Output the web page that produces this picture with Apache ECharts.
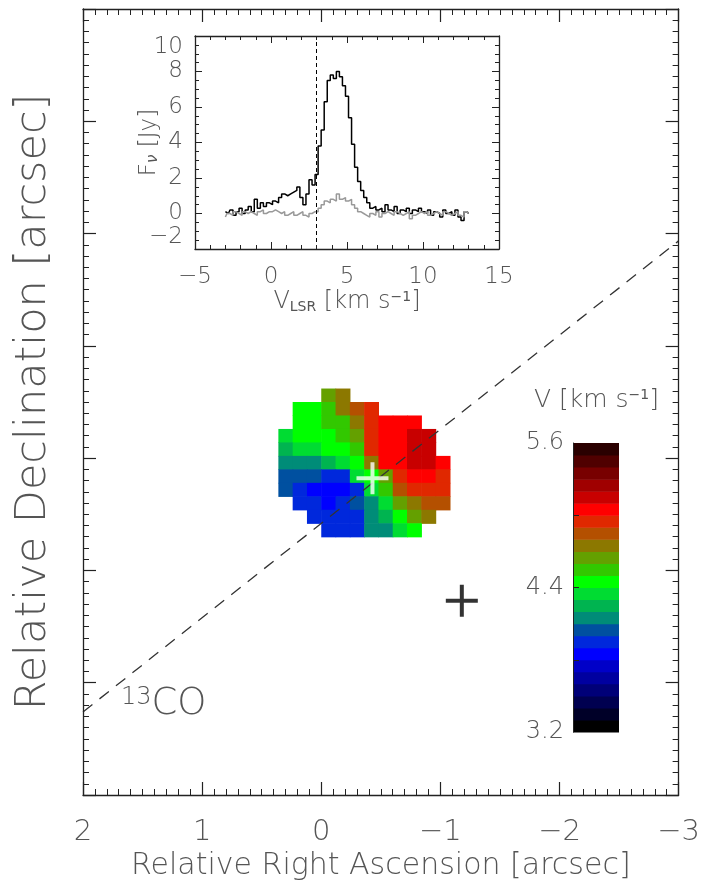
<!DOCTYPE html>
<html>
<head>
<meta charset="utf-8">
<script src="https://cdn.jsdelivr.net/npm/echarts@6/dist/echarts.min.js"></script>
<style>
  html, body { margin: 0; padding: 0; background: #fff; }
  #chart { width: 703px; height: 886px; }
</style>
</head>
<body>
<div id="chart"></div>
<script>
// ---- Integrated spectrum (inset) ----
const specVelocity = [
  -3.0, -2.8, -2.6, -2.4, -2.2, -2.0, -1.8, -1.6, -1.4, -1.2, -1.0, -0.8, -0.6, -0.4, -0.2,
  0.0, 0.2, 0.4, 0.6, 0.8, 1.0, 1.2, 1.4, 1.6, 1.8, 2.0, 2.2, 2.4, 2.6, 2.8,
  3.0, 3.2, 3.4, 3.6, 3.8, 4.0, 4.2, 4.4, 4.6, 4.8, 5.0, 5.2, 5.4, 5.6, 5.8,
  6.0, 6.2, 6.4, 6.6, 6.8, 7.0, 7.2, 7.4, 7.6, 7.8, 8.0, 8.2, 8.4, 8.6, 8.8,
  9.0, 9.2, 9.4, 9.6, 9.8, 10.0, 10.2, 10.4, 10.6, 10.8, 11.0, 11.2, 11.4, 11.6, 11.8,
  12.0, 12.2, 12.4, 12.6, 12.8, 13.0
];
const fluxTotal = [
  0.1, 0.0, 0.2, -0.1, 0.1, 0.3, 0.0, 0.2, 0.4, 0.1, 0.8, 0.3, 0.6, 0.4, 0.6,
  0.5, 0.7, 0.6, 0.9, 1.1, 1.0, 1.1, 1.2, 1.3, 1.5, 0.9, 0.5, 1.1, 1.9, 1.6,
  2.2, 3.8, 4.7, 6.3, 7.5, 7.8, 7.6, 8.0, 7.7, 7.2, 6.6, 5.4, 3.9, 2.6, 1.8,
  1.3, 0.9, 0.6, 0.3, 0.4, 0.2, 0.3, 0.1, 0.5, 0.2, 0.1, 0.4, 0.0, 0.2, 0.1,
  0.3, 0.0, 0.2, 0.1, 0.3, 0.1, 0.0, 0.2, -0.1, 0.1, 0.0, -0.2, 0.2, 0.0, 0.1,
  -0.1, 0.2, -0.2, -0.4, 0.1, 0.0
];
const fluxResidual = [
  -0.2, 0.0, -0.1, 0.1, 0.0, -0.1, 0.1, 0.0, 0.1, 0.0, -0.1, 0.1, 0.2, 0.0, 0.1,
  0.1, 0.2, 0.1, 0.0, 0.1, -0.1, 0.0, 0.1, -0.1, 0.0, 0.1, -0.1, -0.2, 0.0, 0.1,
  0.1, 0.3, 0.5, 0.7, 0.6, 0.8, 0.7, 1.1, 0.8, 0.9, 0.7, 0.8, 0.5, 0.3, 0.1,
  0.0, -0.1, -0.2, 0.0, -0.1, 0.1, -0.2, 0.0, 0.1, 0.0, -0.1, 0.1, 0.0, -0.1, 0.0,
  0.1, -0.3, -0.1, 0.0, 0.1, 0.0, 0.1, -0.1, 0.0, 0.1, 0.0, -0.1, 0.1, 0.0, -0.1,
  0.0, 0.1, -0.1, -0.2, 0.1, 0.0
];
const systemicVelocity = 3.0;

// ---- 13CO first-moment map (arcsec offsets, km/s) ----
const raCenters = [0.30, 0.18, 0.06, -0.06, -0.18, -0.30, -0.42, -0.54, -0.66, -0.78, -0.90, -1.02];
const decCenters = [-0.44, -0.56, -0.68, -0.80, -0.92, -1.04, -1.16, -1.28, -1.40, -1.52, -1.64];
const velocityRows = [
  [null, null, null, 4.68, 4.75, null, null, null, null, null, null, null],
  [null, 4.45, 4.48, 4.56, 4.70, 4.82, 4.92, null, null, null, null, null],
  [null, 4.45, 4.46, 4.50, 4.58, 4.75, 4.97, 5.05, 5.05, 5.08, null, null],
  [4.30, 4.40, 4.44, 4.47, 4.52, 4.65, 4.95, 5.05, 5.05, 5.10, 5.15, null],
  [4.22, 4.32, 4.36, 4.40, 4.46, 4.58, 4.90, 5.05, 5.05, 5.12, 5.15, null],
  [4.12, 4.15, 4.18, 4.25, 4.35, 4.46, 4.75, 5.02, 5.05, 5.10, 5.15, 5.00],
  [4.05, 4.05, 4.00, 3.92, 3.98, 4.30, 4.48, 4.65, 4.95, 5.02, 5.02, 4.95],
  [4.00, 3.95, 3.87, 3.82, 3.85, 3.95, 4.30, 4.55, 4.82, 4.92, 4.92, 4.90],
  [null, 3.95, 3.90, 3.88, 3.92, 4.00, 4.15, 4.35, 4.60, 4.78, 4.85, 4.82],
  [null, null, 3.95, 3.93, 3.95, 3.98, 4.10, 4.25, 4.42, 4.65, 4.72, null],
  [null, null, null, 3.96, 3.96, 3.98, 4.10, 4.18, 4.35, 4.45, null, null]
];

// Colour levels of the velocity scale (km/s)
const levelEdges = [3.2, 3.3, 3.4, 3.5, 3.6, 3.7, 3.8, 3.9, 4.0, 4.1, 4.2, 4.3, 4.4,
                    4.5, 4.6, 4.7, 4.8, 4.9, 5.0, 5.1, 5.2, 5.3, 5.4, 5.5, 5.6];
const colorbarLabels = [3.2, 4.4, 5.6];
const colorbarTicks = [3.8, 4.4, 5.0];

// Continuum source positions and the disk major axis (arcsec)
const sourcePosition = [[-0.43, -1.18]];
const companionPosition = [[-1.18, -2.27]];
const majorAxisLine = [[2.0, -3.26], [-3.0, 0.935]];

// ---- styling ----
const levelColors = [
  '#000000', '#000028', '#000050', '#000078', '#0000a0', '#0000c8', '#0000ff', '#0028dc',
  '#0050a0', '#008c78', '#00b450', '#00dc32', '#00ff00', '#32c800', '#64a000', '#8c7800',
  '#b45000', '#e02800', '#ff0000', '#c80000', '#a00000', '#780000', '#500000', '#2a0000'
];
const FONT = 'DejaVu Sans';
const TXT = '#555';
const AX = '#222';
const minus = v => String(v).replace('-', '\u2212');

function bandIndex(v) {
  for (let i = levelEdges.length - 2; i >= 0; i--) if (v >= levelEdges[i]) return i;
  return 0;
}

const cellData = [];
velocityRows.forEach((row, r) => row.forEach((v, c) => {
  if (v !== null) cellData.push([raCenters[c], decCenters[r], v]);
}));
const cellW = Math.abs(raCenters[1] - raCenters[0]);
const cellH = Math.abs(decCenters[1] - decCenters[0]);

const bandData = levelEdges.slice(0, -1).map((lo, i) => [lo, levelEdges[i + 1]]);

const totalData = specVelocity.map((v, i) => [v, fluxTotal[i]]);
const residualData = specVelocity.map((v, i) => [v, fluxResidual[i]]);

const plusPath = 'path://M0,14H32V18H0Z M14,0H18V32H14Z';

function boxAxis(base, extra) {
  return Object.assign({
    type: 'value',
    z: 5,
    nameMoveOverlap: false,
    splitLine: { show: false },
    minorSplitLine: { show: false },
    axisLine: { show: true, onZero: false, lineStyle: { color: AX, width: 1.3 } },
    axisTick: { show: true, inside: true, length: 13, lineStyle: { color: AX, width: 1.2 } },
    minorTick: { show: true, splitNumber: 10, length: 6, lineStyle: { color: AX, width: 1 } },
    axisLabel: { show: false }
  }, base, extra || {});
}

const insetTick = { show: true, inside: true, length: 7, lineStyle: { color: AX, width: 1 } };
const insetMinor = { show: true, length: 4, lineStyle: { color: AX, width: 1 } };

const option = {
  animation: false,
  backgroundColor: '#fff',
  textStyle: { fontFamily: FONT },
  grid: [
    { left: 83, top: 9, right: 23, bottom: 87 },
    { left: 195, top: 36, width: 304, height: 213, show: true, backgroundColor: '#fff', borderWidth: 0 },
    { left: 573, top: 443, width: 46, height: 289 }
  ],
  xAxis: [
    boxAxis({ gridIndex: 0, position: 'bottom', min: -3, max: 2, interval: 1, inverse: true }, {
      axisLabel: { show: true, fontSize: 29, color: TXT, margin: 23, fontFamily: FONT, fontWeight: 200, formatter: minus },
      name: 'Relative Right Ascension [arcsec]',
      nameLocation: 'middle',
      nameGap: 56,
      nameTextStyle: { fontSize: 30, color: TXT, fontFamily: FONT, fontWeight: 200 }
    }),
    boxAxis({ gridIndex: 0, position: 'top', min: -3, max: 2, interval: 1, inverse: true }),
    boxAxis({ gridIndex: 1, position: 'bottom', min: -5, max: 15, interval: 5 }, {
      axisTick: insetTick,
      minorTick: Object.assign({ splitNumber: 5 }, insetMinor),
      axisLabel: { show: true, fontSize: 23, color: TXT, margin: 17, fontFamily: FONT, fontWeight: 200, formatter: minus },
      name: '{a|V}{s|LSR}{a| [km s}{p|\u22121}{a|]}',
      nameLocation: 'middle',
      nameGap: 41,
      nameTextStyle: {
        color: TXT,
        rich: {
          a: { fontSize: 24, color: TXT, fontFamily: FONT, fontWeight: 200 },
          s: { fontSize: 14, color: TXT, fontFamily: FONT, verticalAlign: 'bottom' },
          p: { fontSize: 14, color: TXT, fontFamily: FONT, verticalAlign: 'top' }
        }
      }
    }),
    boxAxis({ gridIndex: 1, position: 'top', min: -5, max: 15, interval: 5 }, {
      axisTick: insetTick,
      minorTick: Object.assign({ splitNumber: 5 }, insetMinor)
    }),
    { type: 'value', gridIndex: 2, min: 0, max: 1, show: false }
  ],
  yAxis: [
    boxAxis({ gridIndex: 0, position: 'left', min: -4, max: 3, interval: 1 }, {
      name: 'Relative Declination [arcsec]',
      nameLocation: 'middle',
      nameGap: 28,
      nameTextStyle: { fontSize: 43, color: TXT, fontFamily: FONT, fontWeight: 200 }
    }),
    boxAxis({ gridIndex: 0, position: 'right', min: -4, max: 3, interval: 1 }),
    boxAxis({ gridIndex: 1, position: 'left', min: -2, max: 10, interval: 2 }, {
      axisTick: insetTick,
      minorTick: Object.assign({ splitNumber: 4 }, insetMinor),
      axisLabel: { show: true, fontSize: 23, color: TXT, margin: 12, fontFamily: FONT, fontWeight: 200, formatter: minus,
                   verticalAlignMaxLabel: 'top', verticalAlignMinLabel: 'bottom' },
      name: '{a|F}{s|\u03bd}{a| [Jy]}',
      nameLocation: 'middle',
      nameGap: 34,
      nameTextStyle: {
        color: TXT,
        rich: {
          a: { fontSize: 23, color: TXT, fontFamily: FONT, fontWeight: 200 },
          s: { fontSize: 15, color: TXT, fontFamily: FONT, fontStyle: 'italic', verticalAlign: 'bottom' }
        }
      }
    }),
    boxAxis({ gridIndex: 1, position: 'right', min: -2, max: 10, interval: 2 }, {
      axisTick: insetTick,
      minorTick: Object.assign({ splitNumber: 4 }, insetMinor)
    }),
    {
      type: 'value', gridIndex: 2, position: 'left', min: levelEdges[0], max: levelEdges[levelEdges.length - 1],
      z: 5,
      splitLine: { show: false },
      axisLine: { show: true, onZero: false, lineStyle: { color: AX, width: 1 } },
      axisTick: { show: true, inside: true, length: 6, customValues: colorbarTicks, lineStyle: { color: AX, width: 1 } },
      axisLabel: { show: true, fontSize: 24, color: TXT, margin: 9, fontFamily: FONT, fontWeight: 200,
                   customValues: colorbarLabels, formatter: v => v.toFixed(1) }
    }
  ],
  graphic: [
    {
      type: 'text', left: 121, top: 686, z: 10,
      style: {
        text: '{p|13}{a|CO}',
        rich: {
          p: { fontSize: 24, fill: TXT, fontFamily: FONT, fontWeight: 200, verticalAlign: 'top' },
          a: { fontSize: 37, fill: TXT, fontFamily: FONT, fontWeight: 200 }
        }
      }
    },
    {
      type: 'text', left: 534, top: 388, z: 10,
      style: {
        text: '{a|V [km s}{p|\u22121}{a|]}',
        rich: {
          a: { fontSize: 25, fill: TXT, fontFamily: FONT, fontWeight: 200 },
          p: { fontSize: 14, fill: TXT, fontFamily: FONT, verticalAlign: 'top' }
        }
      }
    }
  ],
  series: [
    {
      name: 'moment1',
      type: 'custom',
      xAxisIndex: 0, yAxisIndex: 0,
      z: 2,
      data: cellData,
      renderItem: (params, api) => {
        const x = api.value(0), y = api.value(1);
        const a = api.coord([x + cellW / 2, y + cellH / 2]);
        const b = api.coord([x - cellW / 2, y - cellH / 2]);
        return {
          type: 'rect',
          shape: {
            x: Math.min(a[0], b[0]), y: Math.min(a[1], b[1]),
            width: Math.abs(b[0] - a[0]) + 0.6, height: Math.abs(b[1] - a[1]) + 0.6
          },
          style: { fill: levelColors[bandIndex(api.value(2))] }
        };
      }
    },
    {
      name: 'major axis',
      type: 'line',
      xAxisIndex: 0, yAxisIndex: 0,
      z: 3,
      data: majorAxisLine,
      showSymbol: false,
      lineStyle: { color: '#333', width: 1.3, type: [12, 9] }
    },
    {
      name: 'source',
      type: 'scatter',
      xAxisIndex: 0, yAxisIndex: 0,
      z: 4,
      data: sourcePosition,
      symbol: plusPath,
      symbolSize: 32,
      itemStyle: { color: '#fff' }
    },
    {
      name: 'companion',
      type: 'scatter',
      xAxisIndex: 0, yAxisIndex: 0,
      z: 4,
      data: companionPosition,
      symbol: plusPath,
      symbolSize: 32,
      itemStyle: { color: '#000' }
    },
    {
      name: 'total',
      type: 'line',
      xAxisIndex: 2, yAxisIndex: 2,
      data: totalData,
      step: 'middle',
      showSymbol: false,
      lineStyle: { color: '#000', width: 1.5 },
      markLine: {
        silent: true,
        symbol: ['none', 'none'],
        label: { show: false },
        lineStyle: { color: '#000', width: 1, type: [4, 3] },
        data: [{ xAxis: systemicVelocity }]
      }
    },
    {
      name: 'residual',
      type: 'line',
      xAxisIndex: 2, yAxisIndex: 2,
      data: residualData,
      step: 'middle',
      showSymbol: false,
      lineStyle: { color: '#999', width: 1.5 }
    },
    {
      name: 'colorbar',
      type: 'custom',
      xAxisIndex: 4, yAxisIndex: 4,
      z: 2,
      data: bandData,
      renderItem: (params, api) => {
        const a = api.coord([0, api.value(1)]);
        const b = api.coord([1, api.value(0)]);
        return {
          type: 'rect',
          shape: { x: a[0], y: a[1], width: b[0] - a[0], height: b[1] - a[1] + 0.5 },
          style: { fill: levelColors[params.dataIndex] }
        };
      }
    }
  ]
};

const chart = echarts.init(document.getElementById('chart'), null, { renderer: 'canvas' });
chart.setOption(option);
</script>
</body>
</html>
